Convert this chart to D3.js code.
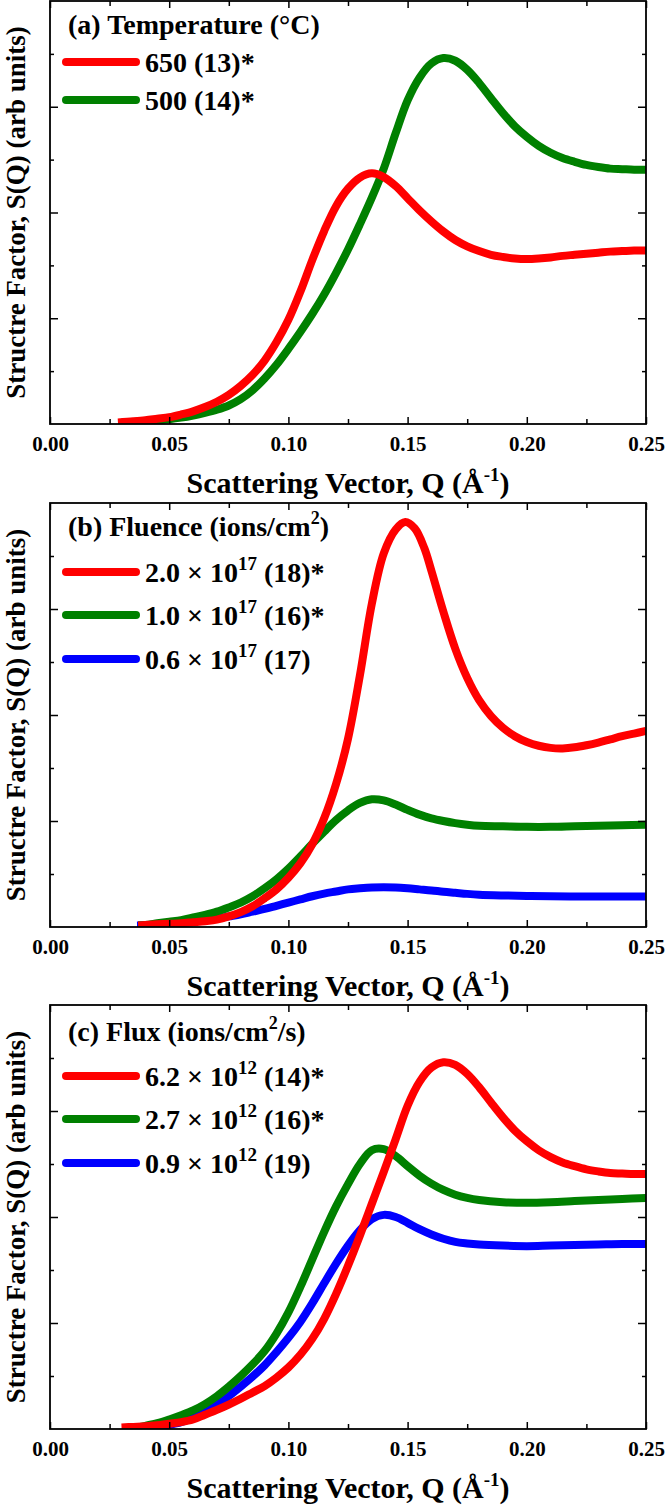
<!DOCTYPE html>
<html><head><meta charset="utf-8">
<script src="https://cdn.jsdelivr.net/npm/d3@7"></script>
<style>
body{margin:0;background:#fff}
text{font-family:"Liberation Serif","Times New Roman",serif;font-weight:bold;fill:#000}
</style></head>
<body><svg id="c" width="666" height="1509"></svg>
<script>
// ---- data ----
const xTickValues = [0, 0.05, 0.10, 0.15, 0.20, 0.25];
const xTickLabels = ["0.00", "0.05", "0.10", "0.15", "0.20", "0.25"];
const xMinorTicks = [0.025, 0.075, 0.125, 0.175, 0.225];
const yMajorTicks = [2, 4, 6];
const yMinorTicks = [1, 3, 5, 7];

// Panel (a) Temperature
const qA650 = [0.0285,0.035,0.04,0.045,0.05,0.055,0.06,0.065,0.07,0.075,0.08,0.085,0.09,0.095,0.10,0.105,0.11,0.115,0.12,0.125,0.13,0.135,0.14,0.145,0.15,0.155,0.16,0.165,0.17,0.175,0.18,0.185,0.19,0.195,0.20,0.205,0.21,0.215,0.22,0.225,0.23,0.235,0.24,0.245,0.25];
const sA650 = [0.03,0.05,0.07,0.10,0.13,0.18,0.24,0.32,0.42,0.55,0.72,0.93,1.2,1.55,1.97,2.5,3.1,3.65,4.12,4.45,4.66,4.74,4.67,4.5,4.27,4.04,3.83,3.64,3.48,3.36,3.27,3.2,3.16,3.13,3.12,3.13,3.15,3.18,3.2,3.22,3.24,3.26,3.27,3.28,3.28];
const qA500 = [0.030,0.035,0.04,0.045,0.05,0.055,0.06,0.065,0.07,0.075,0.08,0.085,0.09,0.095,0.10,0.105,0.11,0.115,0.12,0.125,0.13,0.135,0.14,0.145,0.15,0.155,0.16,0.165,0.17,0.175,0.18,0.185,0.19,0.195,0.20,0.205,0.21,0.215,0.22,0.225,0.23,0.235,0.24,0.245,0.25];
const sA500 = [0.03,0.04,0.05,0.07,0.09,0.12,0.16,0.21,0.27,0.35,0.47,0.64,0.86,1.12,1.42,1.74,2.08,2.45,2.86,3.3,3.78,4.28,4.83,5.5,6.12,6.55,6.82,6.92,6.87,6.7,6.45,6.16,5.88,5.63,5.43,5.26,5.13,5.03,4.96,4.9,4.86,4.83,4.82,4.81,4.81];

// Panel (b) Fluence
const qB20 = [0.037,0.04,0.045,0.05,0.055,0.06,0.065,0.07,0.075,0.08,0.085,0.09,0.095,0.10,0.105,0.11,0.115,0.12,0.125,0.13,0.135,0.14,0.145,0.149,0.153,0.157,0.16,0.165,0.17,0.175,0.18,0.185,0.19,0.195,0.20,0.205,0.21,0.215,0.22,0.225,0.23,0.235,0.24,0.245,0.25];
const sB20 = [0.03,0.04,0.05,0.06,0.07,0.09,0.11,0.14,0.2,0.28,0.39,0.54,0.71,0.93,1.2,1.56,2.05,2.7,3.55,4.75,6.1,7.05,7.5,7.64,7.52,7.15,6.72,5.95,5.25,4.7,4.28,3.98,3.76,3.6,3.49,3.42,3.38,3.37,3.39,3.43,3.48,3.54,3.6,3.65,3.7];
const qB10 = [0.037,0.04,0.045,0.05,0.055,0.06,0.065,0.07,0.075,0.08,0.085,0.09,0.095,0.10,0.105,0.11,0.115,0.12,0.125,0.13,0.135,0.14,0.145,0.15,0.155,0.16,0.165,0.17,0.175,0.18,0.19,0.20,0.21,0.22,0.23,0.24,0.25];
const sB10 = [0.03,0.04,0.07,0.1,0.13,0.18,0.23,0.29,0.37,0.46,0.58,0.73,0.9,1.1,1.33,1.57,1.8,2.02,2.2,2.34,2.41,2.39,2.31,2.21,2.12,2.05,2.0,1.96,1.93,1.91,1.9,1.89,1.89,1.9,1.91,1.92,1.93];
const qB06 = [0.0365,0.04,0.045,0.05,0.055,0.06,0.065,0.07,0.075,0.08,0.085,0.09,0.095,0.10,0.105,0.11,0.115,0.12,0.125,0.13,0.135,0.14,0.145,0.15,0.155,0.16,0.165,0.17,0.175,0.18,0.19,0.20,0.21,0.22,0.23,0.24,0.25];
const sB06 = [0.03,0.035,0.05,0.065,0.08,0.1,0.13,0.16,0.2,0.24,0.29,0.34,0.4,0.46,0.52,0.58,0.63,0.67,0.71,0.73,0.745,0.75,0.745,0.73,0.71,0.69,0.665,0.645,0.625,0.61,0.595,0.585,0.58,0.575,0.575,0.575,0.575];

// Panel (c) Flux
const qC62 = [0.030,0.035,0.04,0.045,0.05,0.055,0.06,0.065,0.07,0.075,0.08,0.085,0.09,0.095,0.10,0.105,0.11,0.115,0.12,0.125,0.13,0.135,0.14,0.145,0.15,0.155,0.16,0.165,0.17,0.175,0.18,0.185,0.19,0.195,0.20,0.205,0.21,0.215,0.22,0.225,0.23,0.235,0.24,0.245,0.25];
const sC62 = [0.03,0.04,0.05,0.07,0.1,0.13,0.18,0.27,0.36,0.46,0.57,0.69,0.81,0.97,1.16,1.4,1.7,2.08,2.55,3.08,3.65,4.25,4.85,5.47,6.1,6.55,6.82,6.92,6.87,6.7,6.45,6.16,5.88,5.63,5.43,5.26,5.13,5.03,4.96,4.9,4.86,4.83,4.82,4.81,4.81];
const qC27 = [0.0365,0.04,0.045,0.05,0.055,0.06,0.065,0.07,0.075,0.08,0.085,0.09,0.095,0.10,0.105,0.11,0.115,0.12,0.125,0.13,0.135,0.14,0.145,0.15,0.155,0.16,0.165,0.17,0.175,0.18,0.19,0.20,0.21,0.22,0.23,0.24,0.25];
const sC27 = [0.03,0.06,0.11,0.18,0.26,0.35,0.47,0.62,0.8,1.0,1.22,1.47,1.8,2.2,2.68,3.2,3.72,4.2,4.62,5.0,5.26,5.28,5.15,4.96,4.78,4.63,4.51,4.42,4.36,4.32,4.28,4.27,4.28,4.3,4.32,4.34,4.36];
const qC09 = [0.0407,0.045,0.05,0.055,0.06,0.065,0.07,0.075,0.08,0.085,0.09,0.095,0.10,0.105,0.11,0.115,0.12,0.125,0.13,0.135,0.14,0.145,0.15,0.155,0.16,0.165,0.17,0.175,0.18,0.19,0.20,0.21,0.22,0.23,0.24,0.25];
const sC09 = [0.03,0.05,0.08,0.13,0.22,0.33,0.46,0.62,0.8,0.99,1.2,1.45,1.72,2.02,2.37,2.75,3.12,3.46,3.75,3.96,4.04,4.0,3.89,3.77,3.67,3.59,3.53,3.5,3.48,3.46,3.45,3.46,3.47,3.48,3.49,3.49];

const titleA = ["(a) Temperature (°C)"];
const titleB = ["(b) Fluence (ions/cm", "2", ")"];
const titleC = ["(c) Flux (ions/cm", "2", "/s)"];
const labelsA = [["650 (13)*"], ["500 (14)*"]];
const labelsB = [["2.0 × 10", "17", " (18)*"], ["1.0 × 10", "17", " (16)*"], ["0.6 × 10", "17", " (17)"]];
const labelsC = [["6.2 × 10", "12", " (14)*"], ["2.7 × 10", "12", " (16)*"], ["0.9 × 10", "12", " (19)"]];
const colors3 = ["#ff0000", "#008000", "#0000ff"];

const xTitle = ["Scattering Vector, Q (Å", "-1", ")"];
const yTitle = "Structre Factor, S(Q) (arb units)";

// ---- layout ----
const svg = d3.select("#c");
const L = 50, R = 646;
const panels = [
  {top: 1, bottom: 424, title: titleA, tY: 33, legY: [61, 99], labels: labelsA,
   series: [[qA650, sA650], [qA500, sA500]]},
  {top: 503, bottom: 927, title: titleB, tY: 33, legY: [69, 112, 156], labels: labelsB,
   series: [[qB20, sB20], [qB10, sB10], [qB06, sB06]]},
  {top: 1005, bottom: 1429, title: titleC, tY: 36, legY: [71, 114, 158], labels: labelsC,
   series: [[qC62, sC62], [qC27, sC27], [qC09, sC09]]}
];

const x = d3.scaleLinear().domain([0, 0.25]).range([L, R]);

function addParts(t, parts, supSize, supDy) {
  parts.forEach((p, i) => {
    const ts = t.append("tspan").text(p);
    if (i % 2 === 1) ts.attr("font-size", supSize).attr("dy", -supDy);
    else if (i > 0) ts.attr("dy", supDy);
  });
}

panels.forEach((P, pi) => {
  const y = d3.scaleLinear().domain([0, 8]).range([P.bottom, P.top]);
  const g = svg.append("g");
  const cid = "clip" + pi;
  g.append("clipPath").attr("id", cid).append("rect")
    .attr("x", L).attr("y", P.top).attr("width", R - L).attr("height", P.bottom - P.top);

  const line = d3.line().x(d => x(d[0])).y(d => y(d[1])).curve(d3.curveCatmullRom.alpha(0.5));
  const order = P.series.map((s, i) => i).reverse();
  order.forEach(i => {
    const [qs, ss] = P.series[i];
    g.append("path").attr("clip-path", `url(#${cid})`)
      .attr("d", line(qs.map((q, k) => [q, ss[k]])))
      .attr("fill", "none").attr("stroke", colors3[i]).attr("stroke-width", 8)
      .attr("stroke-linejoin", "round");
  });

  const axB = d3.axisBottom(x).tickValues(xTickValues).tickSizeInner(-7).tickSizeOuter(0).tickFormat((d, i) => xTickLabels[i]);
  const axBm = d3.axisBottom(x).tickValues(xMinorTicks).tickSizeInner(-5).tickSizeOuter(0).tickFormat("");
  const axT = d3.axisTop(x).tickValues(xTickValues).tickSizeInner(-7).tickSizeOuter(0).tickFormat("");
  const axTm = d3.axisTop(x).tickValues(xMinorTicks).tickSizeInner(-5).tickSizeOuter(0).tickFormat("");
  const axL = d3.axisLeft(y).tickValues(yMajorTicks).tickSizeInner(-8).tickSizeOuter(0).tickFormat("");
  const axLm = d3.axisLeft(y).tickValues(yMinorTicks).tickSizeInner(-4).tickSizeOuter(0).tickFormat("");
  const axR = d3.axisRight(y).tickValues(yMajorTicks).tickSizeInner(-8).tickSizeOuter(0).tickFormat("");
  const axRm = d3.axisRight(y).tickValues(yMinorTicks).tickSizeInner(-4).tickSizeOuter(0).tickFormat("");

  const gb = g.append("g").attr("transform", `translate(0,${P.bottom})`).call(axB);
  g.append("g").attr("transform", `translate(0,${P.bottom})`).call(axBm);
  g.append("g").attr("transform", `translate(0,${P.top})`).call(axT);
  g.append("g").attr("transform", `translate(0,${P.top})`).call(axTm);
  g.append("g").attr("transform", `translate(${L},0)`).call(axL);
  g.append("g").attr("transform", `translate(${L},0)`).call(axLm);
  g.append("g").attr("transform", `translate(${R},0)`).call(axR);
  g.append("g").attr("transform", `translate(${R},0)`).call(axRm);
  g.selectAll(".domain").remove();
  g.selectAll(".tick line").attr("stroke", "#000").attr("stroke-width", 1.5);
  gb.selectAll(".tick text").attr("font-size", 21).attr("y", 0).attr("dy", 0)
    .attr("transform", "translate(0,27)")
    .style("font-family", '"Liberation Serif","Times New Roman",serif').style("font-weight", "bold");

  g.append("rect").attr("x", L).attr("y", P.top).attr("width", R - L).attr("height", P.bottom - P.top)
    .attr("fill", "none").attr("stroke", "#000").attr("stroke-width", 1.8);

  const tt = g.append("text").attr("x", 68).attr("y", P.top + P.tY).attr("font-size", 28);
  addParts(tt, P.title, 18, 12);

  P.labels.forEach((lab, i) => {
    const ly = P.top + P.legY[i];
    g.append("line").attr("x1", 66).attr("x2", 136).attr("y1", ly).attr("y2", ly)
      .attr("stroke", colors3[i]).attr("stroke-width", 8).attr("stroke-linecap", "round");
    const t = g.append("text").attr("x", 145).attr("y", ly + 10).attr("font-size", 28);
    addParts(t, lab, 19, 12);
  });

  const xt = g.append("text").attr("x", (L + R) / 2).attr("y", P.bottom + 69)
    .attr("text-anchor", "middle").attr("font-size", 30);
  addParts(xt, xTitle, 19, 12);

  g.append("text").attr("transform", `translate(25,${(P.top + P.bottom) / 2}) rotate(-90)`)
    .attr("text-anchor", "middle").attr("font-size", 27).text(yTitle);
});
</script>
</body></html>
